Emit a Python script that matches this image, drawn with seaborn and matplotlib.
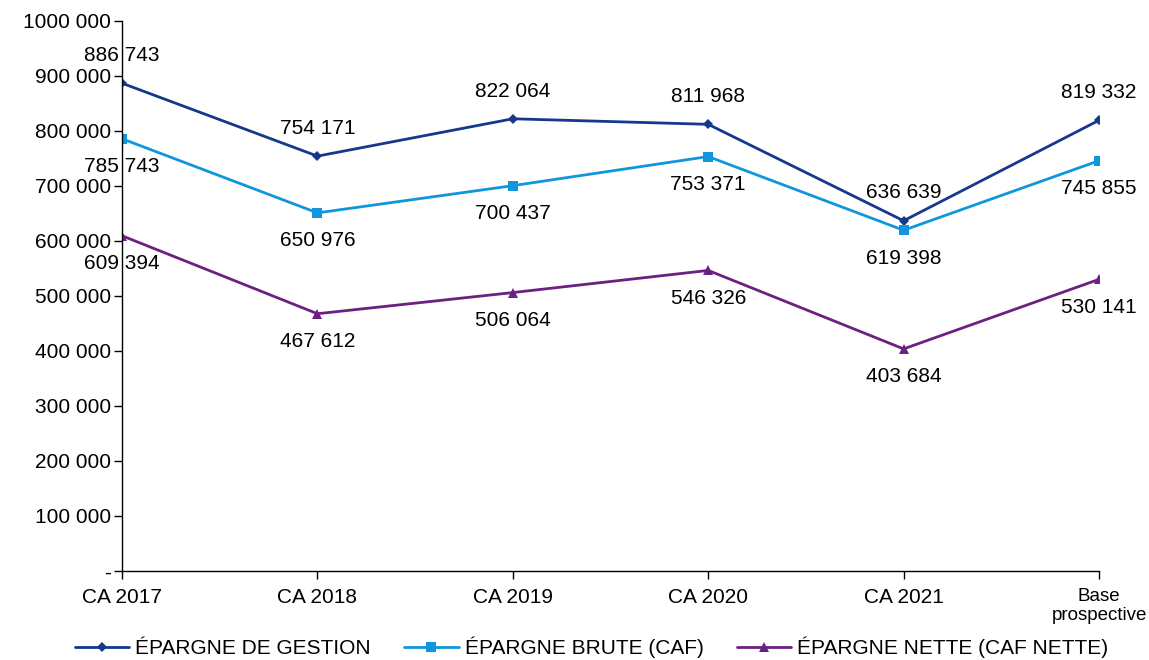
import matplotlib
matplotlib.use("Agg")
import matplotlib.pyplot as plt
import seaborn as sns
import pandas as pd
from matplotlib.ticker import FuncFormatter

categories = ["CA 2017", "CA 2018", "CA 2019", "CA 2020", "CA 2021", "Base\nprospective"]
epargne_gestion = [886743, 754171, 822064, 811968, 636639, 819332]
epargne_brute = [785743, 650976, 700437, 753371, 619398, 745855]
epargne_nette = [609394, 467612, 506064, 546326, 403684, 530141]
series_names = ["ÉPARGNE DE GESTION", "ÉPARGNE BRUTE (CAF)", "ÉPARGNE NETTE (CAF NETTE)"]

sns.set_theme(style="white")
plt.rcParams['font.family'] = ['Liberation Sans', 'DejaVu Sans']
plt.rcParams['text.color'] = 'black'
plt.rcParams['xtick.color'] = 'black'
plt.rcParams['ytick.color'] = 'black'

rows = []
for name, vals in zip(series_names, [epargne_gestion, epargne_brute, epargne_nette]):
    for i, v in enumerate(vals):
        rows.append({"x": i, "value": v, "series": name})
df = pd.DataFrame(rows)

colors = {"ÉPARGNE DE GESTION": "#15388C",
          "ÉPARGNE BRUTE (CAF)": "#1096DC",
          "ÉPARGNE NETTE (CAF NETTE)": "#6A2181"}
markers = {"ÉPARGNE DE GESTION": "D",
           "ÉPARGNE BRUTE (CAF)": "s",
           "ÉPARGNE NETTE (CAF NETTE)": "^"}
msizes = {"ÉPARGNE DE GESTION": 5, "ÉPARGNE BRUTE (CAF)": 6.5, "ÉPARGNE NETTE (CAF NETTE)": 7}

fig = plt.figure(figsize=(11.49, 6.6), dpi=100)
ax = fig.add_axes([0.1062, 0.135, 0.8503, 0.8333])

for name in series_names:
    sub = df[df.series == name]
    sns.lineplot(data=sub, x="x", y="value", ax=ax, color=colors[name], marker=markers[name],
                 markersize=msizes[name], markeredgewidth=0, linewidth=2, label=name, legend=False)

fs = 15
offsets = {"ÉPARGNE DE GESTION": 1, "ÉPARGNE BRUTE (CAF)": -1, "ÉPARGNE NETTE (CAF NETTE)": -1}
for name, vals in zip(series_names, [epargne_gestion, epargne_brute, epargne_nette]):
    for i, v in enumerate(vals):
        lab = f"{v:,}".replace(",", " ")
        d = offsets[name]
        ax.annotate(lab, (i, v), xytext=(0, 20 * d), textcoords="offset points",
                    ha="center", va="center", fontsize=fs, color="black")


def yfmt(v, p):
    if v == 0:
        return "-"
    s = f"{int(v):,}".replace(",", " ")
    if v >= 1000000:
        s = s.replace(" ", "", 1)
    return s


ax.set_xlim(0, len(categories) - 1)
ax.set_ylim(0, 1000000)
ax.set_yticks(range(0, 1000001, 100000))
ax.yaxis.set_major_formatter(FuncFormatter(yfmt))
ax.set_xticks(range(len(categories)))
ax.set_xticklabels(categories, fontsize=fs)
ax.tick_params(axis="y", labelsize=fs, direction="out", length=6, width=1, color="black", pad=2, left=True)
ax.tick_params(axis="x", direction="out", length=6, width=1, color="black", pad=6, bottom=True)
ax.set_xlabel("")
ax.set_ylabel("")
for s in ["top", "right"]:
    ax.spines[s].set_visible(False)
for s in ["left", "bottom"]:
    ax.spines[s].set_color("black")
    ax.spines[s].set_linewidth(1)
ax.grid(False)
xtl = ax.get_xticklabels()
for lbl in xtl:
    lbl.set_linespacing(1.1)
xtl[-1].set_fontsize(13.5)
xtl[-1].set_linespacing(1.2)

handles, labels = ax.get_legend_handles_labels()
fig.legend(handles, labels, loc="center", bbox_to_anchor=(0.515, 0.019), ncol=3, frameon=False,
           fontsize=fs, handlelength=2.6, handletextpad=0.3, columnspacing=1.6)

fig.savefig("out.png", dpi=100)
